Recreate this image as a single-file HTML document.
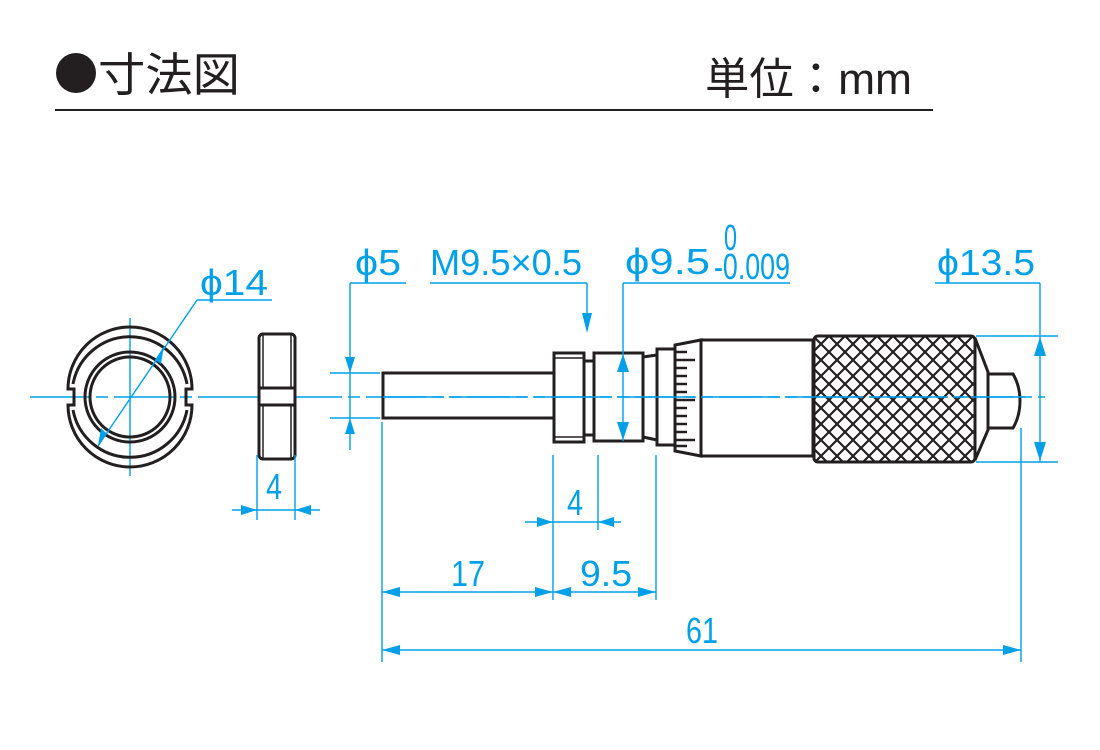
<!DOCTYPE html>
<html><head><meta charset="utf-8"><style>
html,body{margin:0;padding:0;background:#fff;width:1100px;height:750px;overflow:hidden}
svg{display:block}
.b{fill:none;stroke:#231f20;stroke-width:3}
.c{stroke:#00a0e9;stroke-width:1.4;fill:none}
.t{fill:#00a0e9;font-family:"Liberation Sans",sans-serif;font-size:36px}
.a{fill:#00a0e9}
</style></head><body>
<svg width="1100" height="750" viewBox="0 0 1100 750">
<defs>
<pattern id="k" width="16" height="16" patternUnits="userSpaceOnUse" patternTransform="translate(813,336)">
<path d="M0 0L16 16M16 0L0 16" stroke="#231f20" stroke-width="2.2"/>
</pattern>
</defs>
<circle cx="76" cy="73" r="20" fill="#231f20"/>
<text x="98" y="91" font-family="'Liberation Sans','Noto Sans CJK JP',sans-serif" font-size="46" fill="#231f20" textLength="142" lengthAdjust="spacingAndGlyphs">寸法図</text>
<text x="705" y="94" font-family="'Liberation Sans','Noto Sans CJK JP',sans-serif" font-size="44" fill="#231f20" textLength="207" lengthAdjust="spacingAndGlyphs">単位：mm</text>
<line x1="55" y1="110" x2="933" y2="110" stroke="#231f20" stroke-width="2"/>

<line x1="30" y1="397" x2="1045" y2="397" class="c" stroke-dasharray="60 6 12 6"/>
<line x1="130" y1="318" x2="130" y2="476" class="c"/>

<path class="b" d="M68 389 A62 62 0 0 1 192 389 L186 389 L186 405 L192 405 A62 62 0 0 1 68 405 L74 405 L74 389 Z" stroke-width="2.6"/>
<path class="b" d="M73 384 A58 58 0 0 1 187 384 M73 410 A58 58 0 0 0 187 410" stroke-width="1.6"/>
<circle cx="130" cy="397" r="45" class="b" stroke-width="2.6"/>
<circle cx="130" cy="397" r="40" class="b" stroke-width="2.6"/>
<line x1="98" y1="446" x2="197" y2="300" class="c"/>
<line x1="197" y1="300" x2="272" y2="300" class="c"/>
<polygon class="a" points="155,360 164,346 161,364"/>
<polygon class="a" points="98,446 101,428 107,434"/>
<text class="t" x="200" y="295" textLength="68" lengthAdjust="spacingAndGlyphs">ϕ14</text>

<rect x="259" y="334" width="36" height="125" rx="4" class="b"/>
<line x1="263" y1="334" x2="263" y2="459" stroke="#231f20" stroke-width="1.5"/>
<line x1="291" y1="334" x2="291" y2="459" stroke="#231f20" stroke-width="1.5"/>
<rect x="259" y="388" width="36" height="17" fill="#fff" stroke="#231f20" stroke-width="3"/>
<line x1="257" y1="455" x2="257" y2="520" class="c"/>
<line x1="295" y1="455" x2="295" y2="520" class="c"/>
<line x1="232" y1="510" x2="320" y2="510" class="c"/>
<polygon class="a" points="257,510 241,505 241,515"/>
<polygon class="a" points="295,510 311,505 311,515"/>
<text class="t" x="266" y="499" textLength="16" lengthAdjust="spacingAndGlyphs">4</text>

<rect x="383" y="373" width="171" height="45" class="b"/>
<rect x="554" y="353" width="30" height="89" class="b"/>
<line x1="554" y1="358" x2="584" y2="358" stroke="#231f20" stroke-width="1.6"/>
<line x1="554" y1="437" x2="584" y2="437" stroke="#231f20" stroke-width="1.6"/>
<rect x="584" y="361" width="10" height="74" class="b"/>
<rect x="594" y="353" width="49" height="88" class="b"/>
<path class="b" d="M643 357 L657 355 L657 440 L643 437"/>
<rect x="657" y="349" width="18" height="96" class="b"/>
<path class="b" d="M675 345 L701 340 L701 456 L675 451 Z"/>
<g stroke="#231f20" stroke-width="2.5">
<line x1="676" y1="352" x2="687" y2="352"/><line x1="676" y1="360" x2="695" y2="360"/>
<line x1="676" y1="368" x2="687" y2="368"/><line x1="676" y1="376" x2="687" y2="376"/>
<line x1="676" y1="384" x2="687" y2="384"/><line x1="676" y1="392" x2="687" y2="392"/>
<line x1="676" y1="400" x2="695" y2="400"/><line x1="676" y1="408" x2="687" y2="408"/>
<line x1="676" y1="416" x2="687" y2="416"/><line x1="676" y1="424" x2="687" y2="424"/>
<line x1="676" y1="432" x2="687" y2="432"/><line x1="676" y1="440" x2="695" y2="440"/>
<line x1="676" y1="446" x2="687" y2="446"/>
</g>
<rect x="701" y="340" width="112" height="116" class="b"/>
<rect x="814" y="336" width="161" height="126" rx="4" fill="url(#k)" stroke="#231f20" stroke-width="3"/>
<path class="b" d="M975 338 L988 372 L988 430 L975 460"/>
<path class="b" d="M988 374 L1013 374 Q1020 386 1020 401 Q1020 416 1013 428 L988 428"/>

<line x1="383" y1="397" x2="1025" y2="397" class="c" stroke-dasharray="60 6 12 6"/>

<line x1="350" y1="283" x2="406" y2="283" class="c"/>
<line x1="350" y1="283" x2="350" y2="450" class="c"/>
<line x1="330" y1="373" x2="380" y2="373" class="c"/>
<line x1="330" y1="418" x2="380" y2="418" class="c"/>
<polygon class="a" points="350,373 345,357 355,357"/>
<polygon class="a" points="350,418 345,434 355,434"/>
<text class="t" x="355" y="275" textLength="46" lengthAdjust="spacingAndGlyphs">ϕ5</text>

<line x1="430" y1="283" x2="587" y2="283" class="c"/>
<line x1="587" y1="283" x2="587" y2="330" class="c"/>
<polygon class="a" points="587,333 582,313 592,313"/>
<text class="t" x="430" y="275" textLength="152" lengthAdjust="spacingAndGlyphs">M9.5×0.5</text>

<line x1="623" y1="283" x2="790" y2="283" class="c"/>
<line x1="623" y1="283" x2="623" y2="441" class="c"/>
<polygon class="a" points="623,354 617,372 629,372"/>
<polygon class="a" points="623,440 617,422 629,422"/>
<text class="t" x="625" y="274" textLength="85" lengthAdjust="spacingAndGlyphs">ϕ9.5</text>
<text class="t" x="724" y="250" font-size="24" textLength="13" lengthAdjust="spacingAndGlyphs">0</text>
<text class="t" x="714" y="279" font-size="26" textLength="76" lengthAdjust="spacingAndGlyphs">-0.009</text>

<line x1="935" y1="283" x2="1040" y2="283" class="c"/>
<line x1="1040" y1="283" x2="1040" y2="462" class="c"/>
<line x1="976" y1="336" x2="1058" y2="336" class="c"/>
<line x1="976" y1="462" x2="1058" y2="462" class="c"/>
<polygon class="a" points="1040,337 1034,356 1046,356"/>
<polygon class="a" points="1040,461 1034,442 1046,442"/>
<text class="t" x="937" y="275" textLength="98" lengthAdjust="spacingAndGlyphs">ϕ13.5</text>

<line x1="553" y1="455" x2="553" y2="600" class="c"/>
<line x1="598" y1="455" x2="598" y2="530" class="c"/>
<line x1="656" y1="455" x2="656" y2="600" class="c"/>
<line x1="382" y1="422" x2="382" y2="662" class="c"/>
<line x1="1021" y1="428" x2="1021" y2="662" class="c"/>
<line x1="525" y1="522" x2="621" y2="522" class="c"/>
<polygon class="a" points="553,522 537,517 537,527"/>
<polygon class="a" points="598,522 614,517 614,527"/>
<text class="t" x="567" y="515" textLength="16" lengthAdjust="spacingAndGlyphs">4</text>
<line x1="382" y1="592" x2="656" y2="592" class="c"/>
<polygon class="a" points="382,592 400,587 400,597"/>
<polygon class="a" points="553,592 535,587 535,597"/>
<polygon class="a" points="553,592 571,587 571,597"/>
<polygon class="a" points="656,592 638,587 638,597"/>
<text class="t" x="451" y="586" textLength="34" lengthAdjust="spacingAndGlyphs">17</text>
<text class="t" x="580" y="586" textLength="52" lengthAdjust="spacingAndGlyphs">9.5</text>
<line x1="382" y1="650" x2="1021" y2="650" class="c"/>
<polygon class="a" points="382,650 400,645 400,655"/>
<polygon class="a" points="1021,650 1003,645 1003,655"/>
<text class="t" x="686" y="643" textLength="32" lengthAdjust="spacingAndGlyphs">61</text>
</svg>
</body></html>
